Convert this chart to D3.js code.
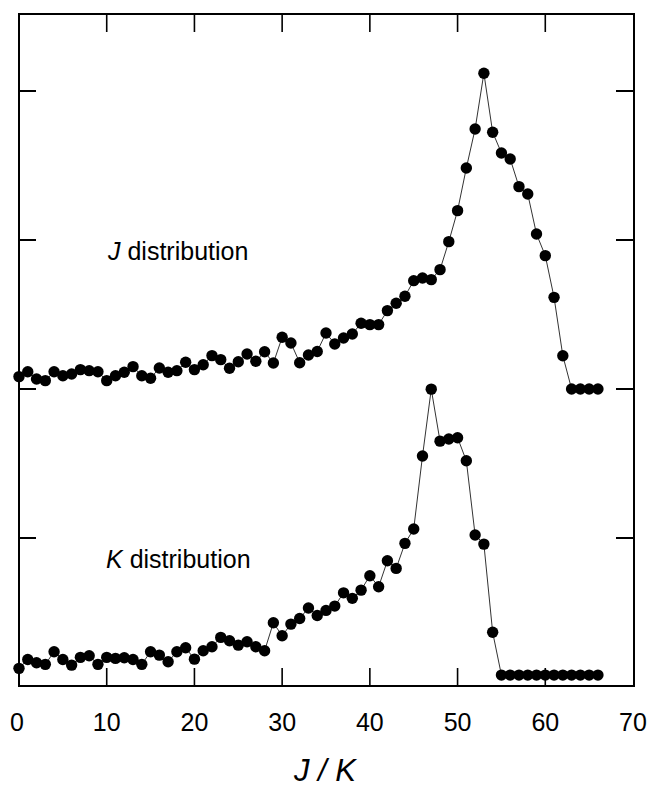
<!DOCTYPE html>
<html>
<head>
<meta charset="utf-8">
<script src="https://cdn.jsdelivr.net/npm/d3@7"></script>
<style>
  html, body { margin: 0; padding: 0; background: #fff; }
  svg { display: block; }
</style>
</head>
<body>
<svg id="chart" width="647" height="796"></svg>
<script>
// ---- data (J index 0..66, intensities in tick units, relative to each baseline) ----
const jIndex = d3.range(0, 67);
const jValues = [
  0.083, 0.116, 0.067, 0.056, 0.116, 0.089, 0.101, 0.130, 0.123, 0.116,
  0.056, 0.089, 0.112, 0.150, 0.089, 0.072, 0.141, 0.112, 0.123, 0.179,
  0.130, 0.163, 0.224, 0.197, 0.139, 0.183, 0.235, 0.186, 0.250, 0.174,
  0.347, 0.309, 0.176, 0.228, 0.252, 0.376, 0.302, 0.342, 0.369, 0.441,
  0.432, 0.432, 0.526, 0.575, 0.622, 0.727, 0.745, 0.734, 0.801, 0.989,
  1.197, 1.483, 1.745, 2.119, 1.723, 1.584, 1.544, 1.358, 1.309, 1.040,
  0.895, 0.615, 0.223, 0.000, 0.000, 0.000, 0.000
];
const kValues = [
  0.045, 0.105, 0.083, 0.072, 0.157, 0.105, 0.067, 0.119, 0.130, 0.072,
  0.119, 0.112, 0.116, 0.105, 0.072, 0.157, 0.134, 0.089, 0.157, 0.183,
  0.107, 0.163, 0.190, 0.253, 0.230, 0.201, 0.224, 0.190, 0.163, 0.351,
  0.264, 0.342, 0.380, 0.450, 0.400, 0.434, 0.463, 0.552, 0.515, 0.570,
  0.667, 0.593, 0.767, 0.716, 0.884, 0.980, 1.470, 1.919, 1.570, 1.584,
  1.593, 1.438, 0.940, 0.879, 0.287, 0.000, 0.000, 0.000, 0.000, 0.000,
  0.000, 0.000, 0.000, 0.000, 0.000, 0.000, 0.000
];
const jOffset = 2.0;   // vertical offset of the J curve
const kOffset = 0.08;  // vertical offset of the K curve
const xTicks = [0, 10, 20, 30, 40, 50, 60, 70];
const yTicks = [1, 2, 3, 4];
const seriesLabels = [
  { sym: "J", text: " distribution" },
  { sym: "K", text: " distribution" }
];
const axisTitle = "J / K";

// ---- layout ----
const svg = d3.select("#chart");
const fLeft = 19, fRight = 634, fTop = 14, fBottom = 686;
const x = d3.scaleLinear().domain([0, 70]).range([fLeft, 633]);
const y = d3.scaleLinear().domain([0, 4.52]).range([687, 13.5]);

const font = "'Liberation Sans', Arial, Helvetica, sans-serif";

// frame
svg.append("rect")
  .attr("x", fLeft).attr("y", fTop)
  .attr("width", fRight - fLeft).attr("height", fBottom - fTop)
  .attr("fill", "none").attr("stroke", "#000").attr("stroke-width", 2);

// inward ticks (bottom & top)
const innerX = xTicks.filter(t => t > 0 && t < 70);
const tickLen = 18;
svg.append("g").selectAll("line").data(innerX).join("line")
  .attr("x1", d => x(d)).attr("x2", d => x(d))
  .attr("y1", fBottom).attr("y2", fBottom - tickLen)
  .attr("stroke", "#000").attr("stroke-width", 1.6);
svg.append("g").selectAll("line").data(innerX).join("line")
  .attr("x1", d => x(d)).attr("x2", d => x(d))
  .attr("y1", fTop).attr("y2", fTop + tickLen)
  .attr("stroke", "#000").attr("stroke-width", 1.6);
// left & right ticks
svg.append("g").selectAll("line").data(yTicks).join("line")
  .attr("x1", fLeft).attr("x2", fLeft + 17)
  .attr("y1", d => y(d)).attr("y2", d => y(d))
  .attr("stroke", "#000").attr("stroke-width", 2);
svg.append("g").selectAll("line").data(yTicks).join("line")
  .attr("x1", fRight).attr("x2", fRight - 18)
  .attr("y1", d => y(d)).attr("y2", d => y(d))
  .attr("stroke", "#000").attr("stroke-width", 2);

// x tick labels
svg.append("g").selectAll("text").data(xTicks).join("text")
  .attr("x", d => x(d) - (d === 0 ? 2 : 0)).attr("y", 731)
  .attr("text-anchor", "middle")
  .attr("font-family", font).attr("font-size", 25)
  .attr("fill", "#000")
  .text(d => d);

// axis title
svg.append("text")
  .attr("x", 325).attr("y", 781)
  .attr("text-anchor", "middle")
  .attr("font-family", font).attr("font-size", 31)
  .attr("font-style", "italic").attr("fill", "#000")
  .text(axisTitle);

// series
function drawSeries(vals, off) {
  const pts = jIndex.map((i, k) => [i, vals[k] + off]);
  const line = d3.line().x(d => x(d[0])).y(d => y(d[1]));
  svg.append("path").datum(pts)
    .attr("d", line).attr("fill", "none")
    .attr("stroke", "#333").attr("stroke-width", 1);
  svg.append("g").selectAll("circle").data(pts).join("circle")
    .attr("cx", d => x(d[0])).attr("cy", d => y(d[1]))
    .attr("r", 5.7).attr("fill", "#000");
}
drawSeries(jValues, jOffset);
drawSeries(kValues, kOffset);

// series labels
const labelPos = [[108, 260], [106, 568]];
seriesLabels.forEach((lab, i) => {
  const t = svg.append("text")
    .attr("x", labelPos[i][0]).attr("y", labelPos[i][1])
    .attr("font-family", font).attr("font-size", 25).attr("fill", "#000");
  t.append("tspan").attr("font-style", "italic").text(lab.sym);
  t.append("tspan").text(lab.text);
});
</script>
</body>
</html>
